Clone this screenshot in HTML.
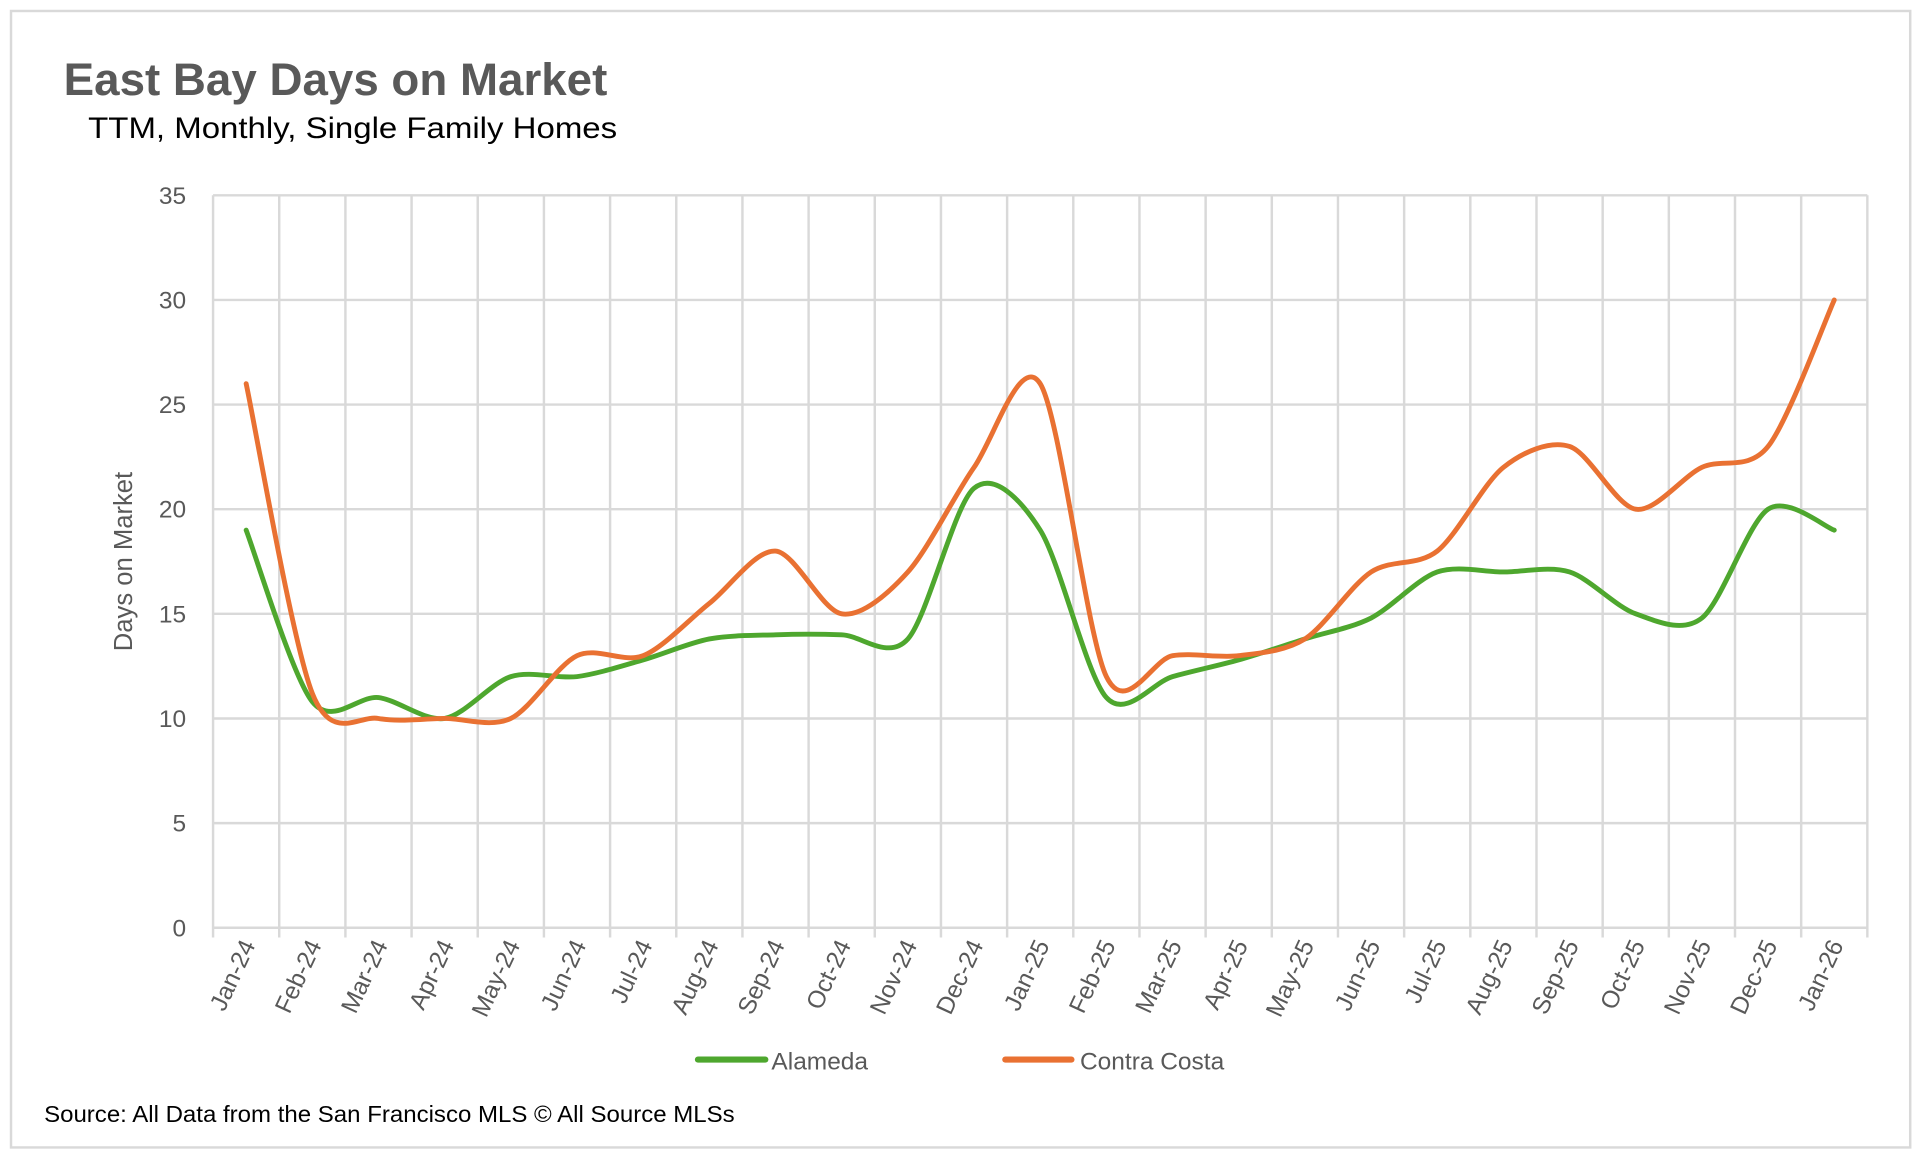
<!DOCTYPE html>
<html><head><meta charset="utf-8"><style>
html,body{margin:0;padding:0;background:#fff;}
svg{display:block;}
text{font-family:"Liberation Sans",sans-serif;}
</style></head><body>
<svg id="chart" width="1920" height="1156" viewBox="0 0 1568 947" preserveAspectRatio="none" xmlns="http://www.w3.org/2000/svg">
<rect x="9" y="9" width="1551" height="931" fill="#fff" stroke="#d9d9d9" stroke-width="2"/>
<text x="52" y="78" font-size="37" font-weight="bold" fill="#595959" textLength="444" lengthAdjust="spacingAndGlyphs">East Bay Days on Market</text>
<text x="72" y="113" font-size="24" fill="#000" textLength="432" lengthAdjust="spacingAndGlyphs">TTM, Monthly, Single Family Homes</text>
<g id="grid"></g>
<g id="axes"></g>
<g id="series"></g>
<text transform="translate(108,460) rotate(-90)" text-anchor="middle" font-size="21" fill="#595959">Days on Market</text>
<g>
<line x1="570" y1="868" x2="625" y2="868" stroke="#4ea72e" stroke-width="5" stroke-linecap="round"/>
<text x="630" y="876" font-size="20" fill="#595959">Alameda</text>
<line x1="821" y1="868" x2="875" y2="868" stroke="#e97132" stroke-width="5" stroke-linecap="round"/>
<text x="882" y="876" font-size="20" fill="#595959">Contra Costa</text>
</g>
<text x="36" y="919" font-size="19" fill="#000" textLength="564" lengthAdjust="spacingAndGlyphs">Source: All Data from the San Francisco MLS © All Source MLSs</text>
</svg>
<script>
const categories=["Jan-24","Feb-24","Mar-24","Apr-24","May-24","Jun-24","Jul-24","Aug-24","Sep-24","Oct-24","Nov-24","Dec-24","Jan-25","Feb-25","Mar-25","Apr-25","May-25","Jun-25","Jul-25","Aug-25","Sep-25","Oct-25","Nov-25","Dec-25","Jan-26"];
const alameda=[19,10.8,11,10,12,12,12.8,13.8,14,14,13.8,21,19,11,12,12.8,13.8,14.8,17,17,17,15,14.8,20,19];
const contraCosta=[26,11.2,10,10,10,13,13,15.5,18,15,17,22,26,12,13,13,13.8,17,18,22,23,20,22,23,30];
const yTicks=[0,5,10,15,20,25,30,35];
const NS="http://www.w3.org/2000/svg";
const L=174,R=1525,T=160,B=760,yMax=35;
const bw=(R-L)/categories.length;
function xs(i){return L+bw*(i+0.5);}
function ys(v){return B-(v/yMax)*(B-T);}
function mk(tag,attrs,parent){const e=document.createElementNS(NS,tag);for(const k in attrs)e.setAttribute(k,attrs[k]);parent.appendChild(e);return e;}
const grid=document.getElementById('grid'),axes=document.getElementById('axes'),series=document.getElementById('series');
yTicks.forEach(t=>{
  const ln=mk('line',{x1:L,x2:R,y1:ys(t),y2:ys(t),stroke:'#d9d9d9','stroke-width':2},grid);
  
  
  const tx=mk('text',{x:152,y:ys(t)+7,'text-anchor':'end','font-size':20,fill:'#595959'},axes);
  tx.textContent=t;
  
  
});
for(let i=0;i<=categories.length;i++){
  const x=L+bw*i;
  const ln=mk('line',{x1:x,x2:x,y1:T,y2:B+8,stroke:'#d9d9d9','stroke-width':2},grid);
  
  
}
categories.forEach((c,i)=>{
  const tx=mk('text',{transform:`translate(${xs(i)+8},${B+14}) rotate(-65)`,'text-anchor':'end','font-size':20,fill:'#595959'},axes);
  tx.textContent=c;
  
  
});
function smooth(vals){
  const p=vals.map((v,i)=>[xs(i),ys(v)]);
  let d=`M${p[0][0]},${p[0][1]}`;
  const k=0.15;
  for(let i=0;i<p.length-1;i++){
    const p0=p[Math.max(0,i-1)],p1=p[i],p2=p[i+1],p3=p[Math.min(p.length-1,i+2)];
    const c1=[p1[0]+(p2[0]-p0[0])*k,p1[1]+(p2[1]-p0[1])*k];
    const c2=[p2[0]-(p3[0]-p1[0])*k,p2[1]-(p3[1]-p1[1])*k];
    d+=` C${c1[0]},${c1[1]} ${c2[0]},${c2[1]} ${p2[0]},${p2[1]}`;
  }
  return d;
}
const pa=mk('path',{d:smooth(alameda),fill:'none',stroke:'#4ea72e','stroke-width':4,'stroke-linecap':'round','stroke-linejoin':'round'},series);


const pc=mk('path',{d:smooth(contraCosta),fill:'none',stroke:'#e97132','stroke-width':4,'stroke-linecap':'round','stroke-linejoin':'round'},series);


</script>
</body></html>
